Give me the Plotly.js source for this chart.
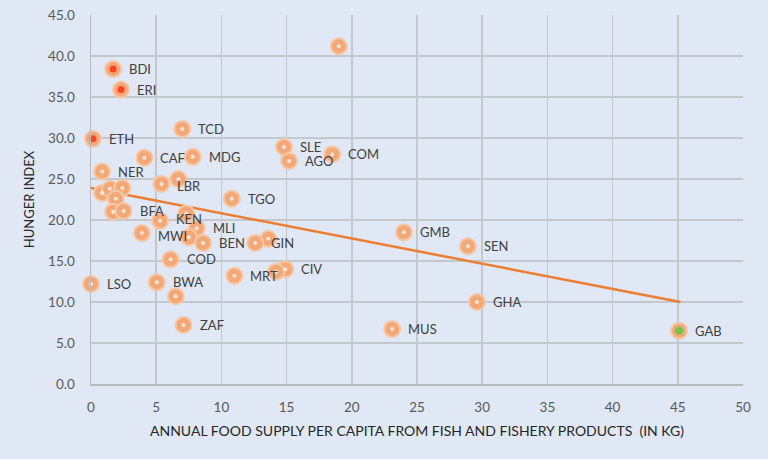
<!DOCTYPE html>
<html>
<head>
<meta charset="utf-8">
<script src="https://cdn.plot.ly/plotly-3.0.1.min.js"></script>
<style>html,body{margin:0;padding:0;background:#dfe8f4;}#chart{width:768px;height:459px;}</style>
</head>
<body>
<div id="chart"></div>
<script>
// Points: fish supply (kg/capita/yr), hunger index, label ("" = unlabeled), core type
const fishSupply = [1.7, 2.3, 0.15, 7.0, 4.1, 7.8, 0.85, 5.4, 6.7, 14.8, 15.2, 18.5, 19.0, 10.8,
  0.85, 1.45, 2.4, 1.9, 1.7, 2.5, 5.3, 7.3, 8.1, 3.9, 7.5, 8.6, 6.1, 0.0, 5.05, 6.5, 7.1,
  13.6, 12.6, 11.0, 14.9, 14.2, 24.0, 28.9, 29.6, 23.1, 45.1];
const hungerIndex = [38.4, 35.9, 29.9, 31.1, 27.6, 27.7, 25.9, 24.4, 25.0, 28.9, 27.2, 28.0, 41.2, 22.6,
  23.3, 23.8, 23.9, 22.6, 21.0, 21.1, 19.9, 20.8, 19.0, 18.4, 17.9, 17.2, 15.2, 12.2, 12.4, 10.7, 7.2,
  17.7, 17.2, 13.2, 14.0, 13.7, 18.5, 16.8, 10.0, 6.7, 6.5];
const countryLabels = ["BDI", "ERI", "ETH", "TCD", "CAF", "MDG", "NER", "LBR", "", "SLE", "AGO", "COM", "", "TGO",
  "", "", "", "", "", "BFA", "KEN", "", "MLI", "MWI", "", "BEN", "COD", "LSO", "BWA", "", "ZAF",
  "", "GIN", "MRT", "CIV", "", "GMB", "SEN", "GHA", "MUS", "GAB"];
const coreType = ["red", "red", "red", "w", "w", "w", "w", "w", "w", "w", "w", "w", "w", "w",
  "w", "w", "w", "w", "w", "w", "w", "w", "w", "w", "w", "w", "w", "w", "w", "w", "w",
  "w", "w", "w", "w", "w", "w", "w", "w", "w", "green"];
// Linear trendline endpoints
const trendX = [0, 45.2];
const trendY = [23.9, 10.0];

const coreColor = {w: "#ffffff", red: "#ff1a00", green: "#3fd13a"};
const coreSize = {w: 4, red: 7, green: 8};
// small label nudges (pixels) to keep crowded labels apart
const labelNudge = {KEN: 2, MWI: -3, LBR: -2};

const traces = [
  {x: trendX, y: trendY, mode: "lines", line: {color: "#ed7d31", width: 2.5}, hoverinfo: "skip"},
  {x: fishSupply, y: hungerIndex, mode: "markers", cliponaxis: false,
   marker: {size: 16, color: "#f3a878", line: {color: "#f7c7a5", width: 2}}},
  {x: fishSupply, y: hungerIndex, mode: "markers", cliponaxis: false,
   marker: {size: coreType.map(t=>coreSize[t]), color: coreType.map(t=>coreColor[t]), line: {width: 0}}}
];

const annotations = [];
countryLabels.forEach((lab, i) => {
  if (!lab) return;
  annotations.push({x: fishSupply[i], y: hungerIndex[i], text: lab, showarrow: false,
    xanchor: "left", yanchor: "middle", xshift: 14, yshift: labelNudge[lab] || 0,
    font: {family: "Lato, 'Open Sans', sans-serif", size: 13, color: "#404040"}});
});

const layout = {
  width: 768, height: 459,
  paper_bgcolor: "#dfe8f4", plot_bgcolor: "#dfe8f4",
  margin: {l: 91, r: 25, t: 15, b: 75},
  showlegend: false,
  font: {family: "Lato, 'Open Sans', sans-serif", color: "#595959"},
  xaxis: {range: [0, 50], dtick: 5, tick0: 0, showgrid: true, gridcolor: "#c3c8cd", gridwidth: 1.5,
    showline: true, linecolor: "#b8bcc0", linewidth: 1.5, zeroline: false, ticks: "", ticklabelstandoff: 10,
    tickfont: {size: 13.5, color: "#595959"},
    title: {text: "ANNUAL FOOD SUPPLY PER CAPITA FROM FISH AND FISHERY PRODUCTS  (IN KG)", standoff: 12,
      font: {size: 14, color: "#262626"}}},
  yaxis: {range: [0, 45], dtick: 5, tick0: 0, tickformat: ".1f", showgrid: true, gridcolor: "#c3c8cd", gridwidth: 1.5,
    showline: true, linecolor: "#b8bcc0", linewidth: 1.5, zeroline: false, ticks: "", ticklabelstandoff: 12,
    tickfont: {size: 13.5, color: "#595959"},
    title: {text: "HUNGER INDEX", standoff: 10, font: {size: 13, color: "#262626"}}},
  annotations: annotations
};

Plotly.newPlot("chart", traces, layout, {displayModeBar: false, staticPlot: true});
</script>
</body>
</html>
